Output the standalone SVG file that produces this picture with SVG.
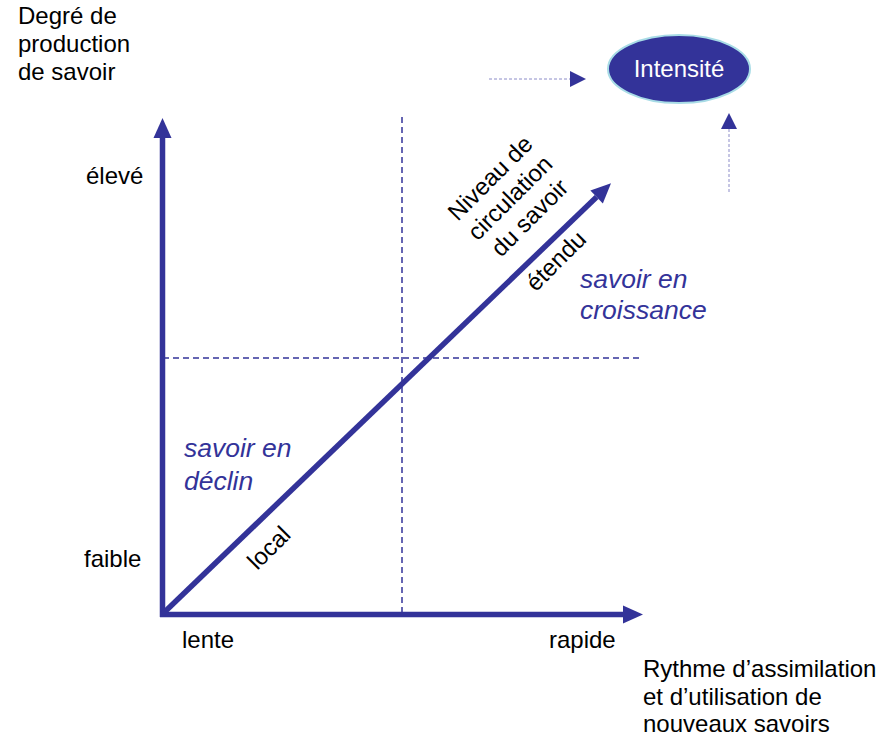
<svg xmlns="http://www.w3.org/2000/svg" width="888" height="736" viewBox="0 0 888 736">
<style>
.t{font-family:"Liberation Sans",Arial,sans-serif;font-size:24px;fill:#000}
.b{font-family:"Liberation Sans",Arial,sans-serif;font-size:26.5px;font-style:italic;fill:#333399}
.ax{stroke:#333399;stroke-width:5.5;fill:none}
.dash{stroke:#333399;stroke-width:1.5;stroke-dasharray:6,4;fill:none}
.thin{stroke:#8c8cc8;stroke-width:1;stroke-dasharray:3,2;fill:none}
</style>
<defs>
<marker id="ah" markerUnits="userSpaceOnUse" markerWidth="20" markerHeight="18" refX="0" refY="9" orient="auto" overflow="visible">
<path d="M0,0 L20,9 L0,18 z" fill="#333399"/>
</marker>
<marker id="ahs" markerUnits="userSpaceOnUse" markerWidth="16" markerHeight="16" refX="0" refY="8" orient="auto" overflow="visible">
<path d="M0,0 L16,8 L0,16 z" fill="#333399"/>
</marker>
</defs>
<g id="connectors">
<line class="dash" x1="402" y1="117" x2="402" y2="613"/>
<line class="dash" x1="163" y1="358" x2="643" y2="358"/>
<line class="ax" x1="162.5" y1="617" x2="162.5" y2="138" marker-end="url(#ah)"/>
<line class="ax" x1="160" y1="614.5" x2="623" y2="614.5" marker-end="url(#ah)"/>
<line class="ax" x1="162.5" y1="614" x2="596.6" y2="197" marker-end="url(#ah)"/>
<line class="thin" x1="489" y1="79" x2="570" y2="79" marker-end="url(#ahs)"/>
<line class="thin" x1="729" y1="192" x2="729" y2="129" marker-end="url(#ahs)"/>
</g>
<g id="intensite">
<ellipse cx="679" cy="69" rx="71" ry="34" fill="#333399" stroke="#a8dce6" stroke-width="2"/>
<text class="t" x="679" y="77" text-anchor="middle" style="fill:#fff">Intensité</text>
</g>
<g id="y-title"><text class="t" x="18" y="24">Degré de</text><text class="t" x="18" y="52">production</text><text class="t" x="18" y="80">de savoir</text></g>
<g id="x-title"><text class="t" x="643" y="677">Rythme d’assimilation</text><text class="t" x="643" y="705">et d’utilisation de</text><text class="t" x="643" y="732">nouveaux savoirs</text></g>
<g id="eleve"><text class="t" x="86" y="184">élevé</text></g>
<g id="faible"><text class="t" x="84" y="567">faible</text></g>
<g id="lente"><text class="t" x="182" y="648">lente</text></g>
<g id="rapide"><text class="t" x="549" y="648">rapide</text></g>
<g id="croissance"><text class="b" x="580" y="288">savoir en</text><text class="b" x="580" y="319">croissance</text></g>
<g id="declin"><text class="b" x="184" y="457">savoir en</text><text class="b" x="184" y="490">déclin</text></g>
<g id="niveau" transform="translate(510,198) rotate(-45)">
<text class="t" x="0" y="-20" text-anchor="middle">Niveau de</text>
<text class="t" x="0" y="8" text-anchor="middle">circulation</text>
<text class="t" x="0" y="36" text-anchor="middle">du savoir</text>
</g>
<g id="etendu" transform="translate(556,261) rotate(-45)"><text class="t" x="0" y="8" text-anchor="middle">étendu</text></g>
<g id="local" transform="translate(269,548) rotate(-45)"><text class="t" x="0" y="8" text-anchor="middle">local</text></g>
</svg>
